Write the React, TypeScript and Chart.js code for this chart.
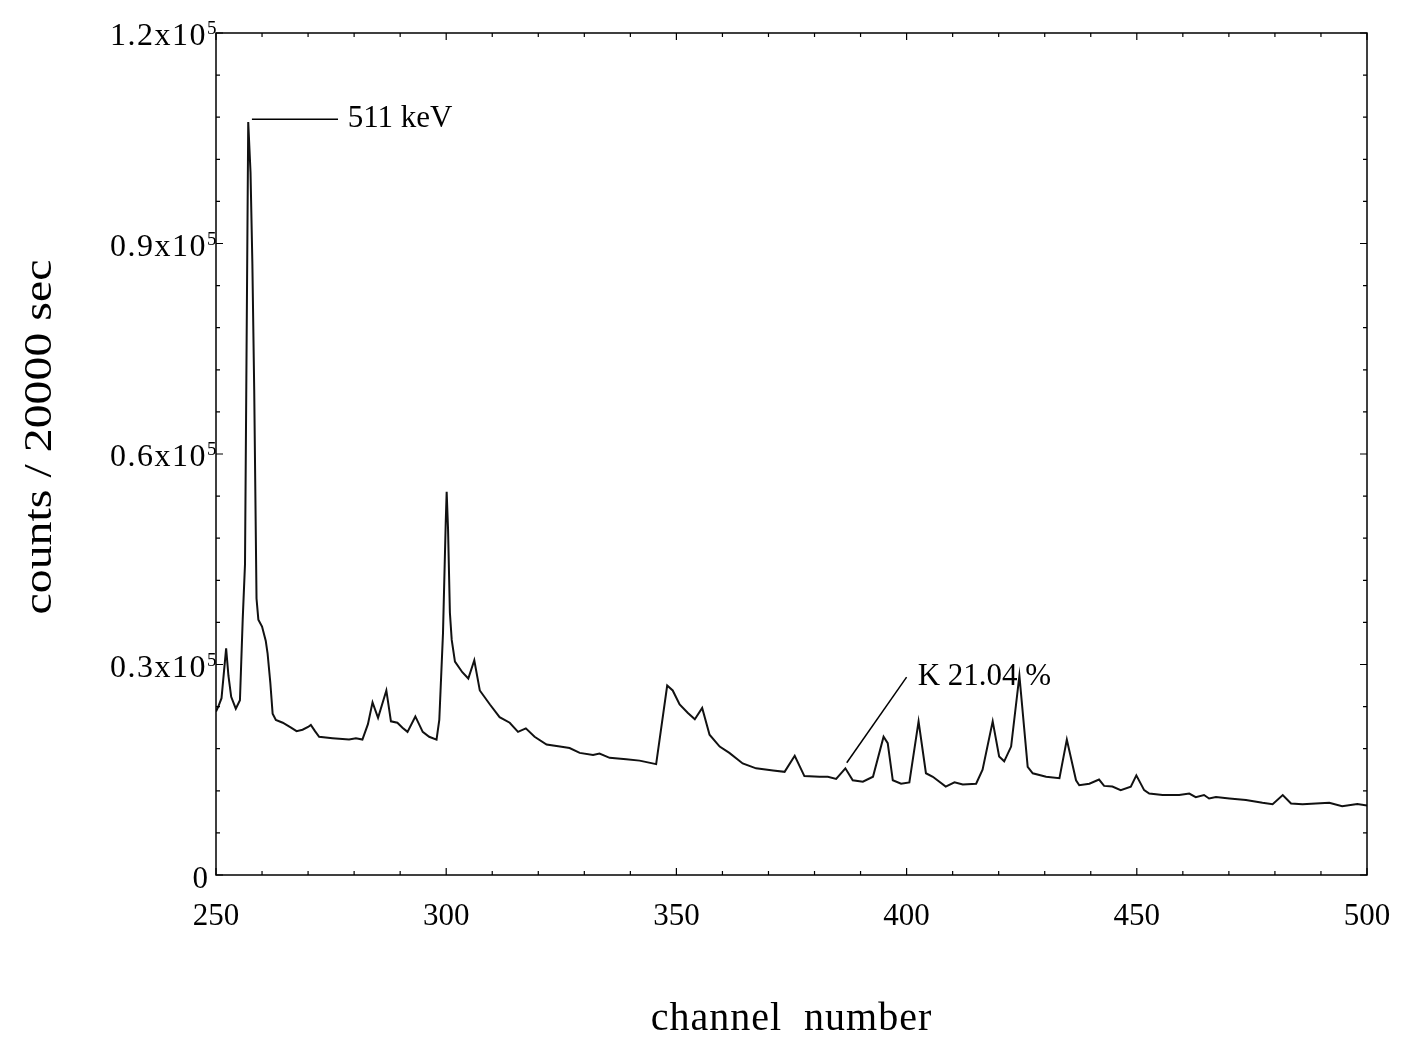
import React, { useEffect, useRef } from 'react';
import { Chart, registerables } from 'chart.js';

Chart.register(...registerables);

// Spectrum: channel positions and counts per 20000 s
const channels = [
  250, 250.5, 251.2, 252.2, 252.7, 253.3, 254.3, 255.2, 255.8, 256.3,
  257.0, 257.5, 257.9, 258.3, 258.8, 259.2, 260, 260.8, 261.2, 261.8,
  262.3, 263, 264.5, 266.3, 267.5, 268.8, 270, 270.6, 271.5, 272.4,
  275.3, 278.9, 280.4, 281.8, 283, 284, 285.2, 287, 288, 289.4,
  290.5, 291.6, 293.3, 294.9, 296.3, 297.9, 298.5, 299.3, 299.9, 300.1,
  300.4, 300.8, 301.2, 301.9, 303.5, 304.8, 306.1, 307.3, 309.5, 311.6,
  313.8, 315.6, 317.3, 319.2, 321.8, 324.7, 326.8, 329, 331.9, 333.3,
  335.5, 339.1, 342, 345.6, 348, 349.2, 350.7, 352.5, 354, 355.6,
  357.2, 359.4, 361.5, 364.4, 367.3, 371, 373.5, 375.7, 377.8, 381.1,
  382.9, 384.7, 386.7, 388.3, 390.5, 392.7, 395, 395.9, 397, 398.8,
  400.6, 402.6, 404.2, 405.7, 408.5, 410.4, 412.2, 415.1, 416.5, 418.7,
  420.1, 421.2, 422.7, 424.5, 426.3, 427.4, 430.3, 433.2, 434.8, 436.8,
  437.5, 439.7, 441.8, 442.9, 444.7, 446.5, 448.7, 449.9, 451.6, 452.7,
  455.6, 459.2, 461.4, 462.8, 464.6, 465.7, 467.2, 470.1, 473.7, 477.3,
  479.5, 481.7, 483.5, 486, 488.9, 491.8, 494.6, 497.9, 500,
];

const counts = [
  23300, 24000, 25200, 32300, 28400, 25400, 23700, 24900, 36400, 44300,
  107300, 100100, 87100, 69200, 39400, 36400, 35400, 33400, 31600, 27400,
  23000, 22100, 21700, 21000, 20500, 20700, 21100, 21400, 20500, 19700,
  19500, 19300, 19500, 19300, 21500, 24600, 22400, 26300, 21900, 21700,
  21000, 20400, 22600, 20400, 19700, 19300, 22100, 34400, 50300, 54600,
  49300, 37400, 33500, 30400, 28900, 28000, 30600, 26300, 24300, 22500,
  21700, 20400, 20900, 19700, 18600, 18300, 18100, 17400, 17100, 17300,
  16700, 16500, 16300, 15800, 27000, 26300, 24300, 23100, 22200, 23800,
  20000, 18300, 17400, 15900, 15200, 14900, 14700, 17000, 14100, 14000,
  14000, 13700, 15200, 13500, 13300, 14000, 19700, 18800, 13500, 13000,
  13200, 21900, 14500, 14000, 12600, 13200, 12900, 13000, 15000, 21900,
  16900, 16200, 18300, 28400, 15400, 14500, 14000, 13800, 19300, 13500,
  12800, 13000, 13600, 12700, 12600, 12100, 12600, 14200, 12100, 11600,
  11400, 11400, 11600, 11100, 11400, 10900, 11100, 10900, 10700, 10300,
  10100, 11400, 10200, 10100, 10200, 10300, 9800, 10100, 9900,
];

// Axes
const xMin = 250;
const xMax = 500;
const yMin = 0;
const yMax = 120000;
const xMajorTicks = [250, 300, 350, 400, 450, 500];
const xTickLabels = ['250', '300', '350', '400', '450', '500'];
const xMinorStep = 10;
const yMajorTicks = [0, 30000, 60000, 90000, 120000];
const yTickMantissa = ['0', '0.3x10', '0.6x10', '0.9x10', '1.2x10'];
const yTickExponent = ['', '5', '5', '5', '5'];
const yMinorStep = 6000;
const xTitle = 'channel  number';
const yTitle = 'counts / 20000 sec';

// Annotations (data coordinates)
const annotationTexts = ['511 keV', 'K 21.04 %'];
const annotationLineFrom = [[257.8, 107700], [387, 16000]];
const annotationLineTo = [[276.5, 107700], [400, 28200]];
const annotationTextAt = [[278.6, 107700], [402.4, 28300]];

const FONT = '"Liberation Serif", "Times New Roman", serif';

const framePlugin = {
  id: 'frameAndLabels',
  afterDraw(chart: any) {
    const { ctx, chartArea, scales } = chart;
    const { left, right, top, bottom } = chartArea;
    const xs = scales.x;
    const ys = scales.y;
    ctx.save();
    ctx.strokeStyle = '#000';
    ctx.fillStyle = '#000';
    ctx.lineWidth = 1.5;
    ctx.strokeRect(left, top, right - left, bottom - top);

    // ticks (inside, on all four sides)
    ctx.lineWidth = 1.2;
    ctx.beginPath();
    for (let v = xMin; v <= xMax + 1e-6; v += xMinorStep) {
      const px = xs.getPixelForValue(v);
      const len = xMajorTicks.includes(v) ? 7 : 4;
      ctx.moveTo(px, bottom);
      ctx.lineTo(px, bottom - len);
      ctx.moveTo(px, top);
      ctx.lineTo(px, top + len);
    }
    for (let v = yMin; v <= yMax + 1e-6; v += yMinorStep) {
      const py = ys.getPixelForValue(v);
      const len = yMajorTicks.includes(v) ? 7 : 4;
      ctx.moveTo(left, py);
      ctx.lineTo(left + len, py);
      ctx.moveTo(right, py);
      ctx.lineTo(right - len, py);
    }
    ctx.stroke();

    // x tick labels
    ctx.font = `31px ${FONT}`;
    ctx.textAlign = 'center';
    ctx.textBaseline = 'alphabetic';
    xMajorTicks.forEach((v, i) => {
      ctx.fillText(xTickLabels[i], xs.getPixelForValue(v), bottom + 50);
    });

    // y tick labels
    yMajorTicks.forEach((v, i) => {
      const py = ys.getPixelForValue(v);
      ctx.textAlign = 'right';
      if (yTickExponent[i]) {
        ctx.font = `32px ${FONT}`;
        try { (ctx as any).letterSpacing = '1.5px'; } catch (e) {}
        ctx.fillText(yTickMantissa[i], left - 9, py + 12);
        try { (ctx as any).letterSpacing = '0px'; } catch (e) {}
        ctx.font = `19px ${FONT}`;
        ctx.textAlign = 'left';
        ctx.fillText(yTickExponent[i], left - 9, py + 1);
      } else {
        ctx.font = `31px ${FONT}`;
        ctx.fillText(yTickMantissa[i], left - 8, py + 13);
      }
    });

    // axis titles
    ctx.font = `40px ${FONT}`;
    ctx.textAlign = 'center';
    try { (ctx as any).letterSpacing = '1px'; } catch (e) {}
    ctx.fillText(xTitle, (left + right) / 2, bottom + 155);
    try { (ctx as any).letterSpacing = '0px'; } catch (e) {}

    ctx.save();
    ctx.font = `30px ${FONT}`;
    const w = ctx.measureText(yTitle).width;
    const targetLen = 355;
    ctx.translate(41, 437);
    ctx.rotate(-Math.PI / 2);
    ctx.scale(targetLen / w, 1.3);
    ctx.textAlign = 'center';
    ctx.textBaseline = 'middle';
    ctx.fillText(yTitle, 0, 0);
    ctx.restore();

    // annotations
    ctx.lineWidth = 1.5;
    ctx.font = `31px ${FONT}`;
    ctx.textAlign = 'left';
    ctx.textBaseline = 'middle';
    annotationTexts.forEach((t, i) => {
      const [fx, fy] = annotationLineFrom[i];
      const [tx, ty] = annotationLineTo[i];
      ctx.beginPath();
      ctx.moveTo(xs.getPixelForValue(fx), ys.getPixelForValue(fy));
      ctx.lineTo(xs.getPixelForValue(tx), ys.getPixelForValue(ty));
      ctx.stroke();
      const [ax, ay] = annotationTextAt[i];
      ctx.fillText(t, xs.getPixelForValue(ax), ys.getPixelForValue(ay));
    });
    ctx.restore();
  },
};

export default function App() {
  const canvasRef = useRef<HTMLCanvasElement | null>(null);

  useEffect(() => {
    const canvas = canvasRef.current;
    if (!canvas) return;
    const chart = new Chart(canvas, {
      type: 'line',
      data: {
        datasets: [
          {
            data: channels.map((c, i) => ({ x: c, y: counts[i] })),
            borderColor: '#111',
            borderWidth: 2,
            pointRadius: 0,
            tension: 0,
            fill: false,
          },
        ],
      },
      options: {
        responsive: false,
        animation: false,
        events: [],
        layout: { padding: { left: 216, top: 33, right: 43, bottom: 163 } },
        plugins: { legend: { display: false }, tooltip: { enabled: false } },
        scales: {
          x: { type: 'linear', min: xMin, max: xMax, display: false },
          y: { type: 'linear', min: yMin, max: yMax, display: false },
        },
      },
      plugins: [framePlugin],
    } as any);
    return () => chart.destroy();
  }, []);

  return (
    <div style={{ position: 'absolute', left: 0, top: 0, width: 1410, height: 1038, background: '#fff' }}>
      <canvas ref={canvasRef} width={1410} height={1038} style={{ display: 'block', width: 1410, height: 1038 }} />
    </div>
  );
}
